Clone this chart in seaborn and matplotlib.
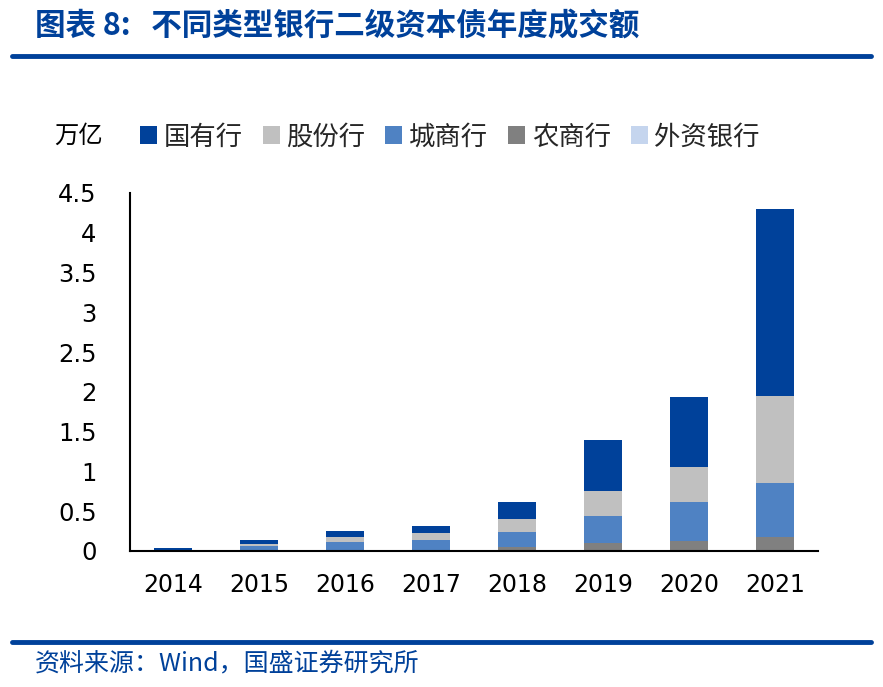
import numpy as np
import pandas as pd
import matplotlib
matplotlib.use("Agg")
import matplotlib.pyplot as plt
from matplotlib.patches import Patch
from matplotlib.lines import Line2D
import seaborn as sns

# 数据（万亿），读自原图
years = ["2014", "2015", "2016", "2017", "2018", "2019", "2020", "2021"]
guoyou = [0.03, 0.047, 0.075, 0.088, 0.21, 0.65, 0.87, 2.35]    # 国有行
gufen = [0.01, 0.025, 0.058, 0.092, 0.16, 0.31, 0.45, 1.10]      # 股份行
chengshang = [0.0, 0.058, 0.11, 0.126, 0.20, 0.34, 0.48, 0.68]   # 城商行
nongshang = [0.0, 0.005, 0.005, 0.01, 0.045, 0.10, 0.13, 0.17]  # 农商行
waizi = [0, 0, 0, 0, 0, 0, 0, 0]                                 # 外资银行

names = ["国有行", "股份行", "城商行", "农商行", "外资银行"]
colors = ["#00419A", "#C0C0C0", "#4F82C3", "#808080", "#C5D5EE"]
blue = "#00419A"

sns.set_theme(style="white")
plt.rcParams["font.family"] = ["Noto Sans CJK SC", "DejaVu Sans"]

# 堆叠：自下而上 农商 -> 城商 -> 股份 -> 国有 -> 外资
df = pd.DataFrame({"year": years, "农商行": nongshang, "城商行": chengshang,
                   "股份行": gufen, "国有行": guoyou, "外资银行": waizi})
stack_order = ["农商行", "城商行", "股份行", "国有行", "外资银行"]
cum = df[stack_order].cumsum(axis=1)

fig = plt.figure(figsize=(8.83, 6.87), dpi=100)
ax = fig.add_axes([130 / 883, 1 - 551 / 687, 688 / 883, (551 - 193) / 687])

# 从最高的累计值画起，小的覆盖在上面
for name in stack_order[::-1]:
    c = colors[names.index(name)]
    sns.barplot(x=df["year"], y=cum[name], color=c, width=0.44,
                saturation=1, ax=ax, linewidth=0)

ax.set_ylim(0, 4.5)
ax.set_xlim(-0.5, 7.5)
ax.set_yticks(np.arange(0, 4.51, 0.5))
ax.set_yticklabels(["0", "0.5", "1", "1.5", "2", "2.5", "3", "3.5", "4", "4.5"],
                   family="DejaVu Sans", fontsize=17.5)
ax.set_xticks(range(len(years)))
ax.set_xticklabels(years, family="DejaVu Sans", fontsize=17)
ax.set_xticks(np.arange(-0.5, 7.6, 1), minor=True)
ax.tick_params(axis="x", which="major", length=0, pad=16, colors="black")
ax.tick_params(axis="x", which="minor", length=6.5, width=1.2, direction="in", color="black")
ax.tick_params(axis="y", which="major", length=6.5, width=1.2, direction="in", pad=24, colors="black")
ax.set_xlabel("")
ax.set_ylabel("")
sns.despine(ax=ax)
for s in ["left", "bottom"]:
    ax.spines[s].set_color("black")
    ax.spines[s].set_linewidth(1.5)

# 单位与图例
fig.text(54 / 883, 1 - 136 / 687, "万亿", fontsize=17.5, va="center", ha="left", color="black")
handles = [Patch(facecolor=c, edgecolor="none") for c in colors]
fig.legend(handles, names, loc="center left", bbox_to_anchor=(140 / 883, 1 - 137 / 687),
           ncol=5, frameon=False, fontsize=19, handlelength=0.65, handleheight=0.65,
           handletextpad=0.25, columnspacing=0.75, borderaxespad=0, borderpad=0)

# 标题、分隔线、来源
fig.text(35 / 883, 1 - 26 / 687, "图表 8:   不同类型银行二级资本债年度成交额",
         fontsize=22, fontweight="bold", color=blue, va="center", ha="left")
fig.add_artist(Line2D([12 / 883, 871 / 883], [1 - 56 / 687] * 2, color=blue, lw=3.5))
fig.add_artist(Line2D([12 / 883, 871 / 883], [1 - 642 / 687] * 2, color=blue, lw=3.5))
fig.text(35 / 883, 1 - 663 / 687, "资料来源：Wind，国盛证券研究所",
         fontsize=18, color=blue, va="center", ha="left")

fig.savefig("out.png", dpi=100)
